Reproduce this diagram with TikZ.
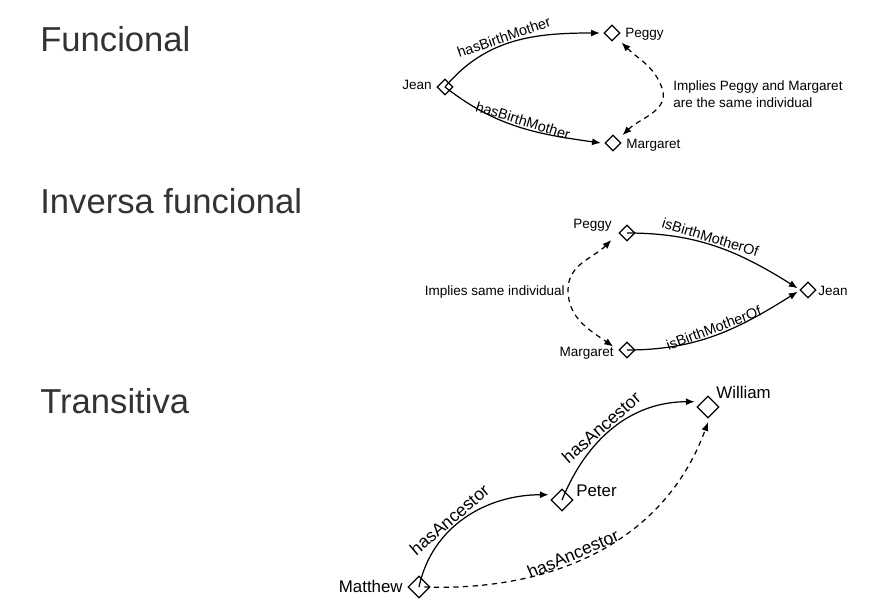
\documentclass[tikz,border=0pt]{standalone}
\usepackage{fontspec}
\setmainfont{Liberation Sans}
\usetikzlibrary{shapes.geometric,arrows.meta}
\definecolor{titlegray}{HTML}{333333}
\begin{document}
\begin{tikzpicture}[x=0.02cm,y=0.02cm,
  title/.style={anchor=base west,font=\fontsize{19.7}{22}\selectfont,text=titlegray,inner sep=0},
  lbl/.style={font=\fontsize{7.7}{9}\selectfont,inner sep=0},
  lblbig/.style={font=\fontsize{9.6}{11}\selectfont,inner sep=0},
  ind/.style={draw,diamond,inner sep=0,minimum size=0.32cm,line width=0.7pt},
  indbig/.style={ind,minimum size=0.44cm},
  rel/.style={line width=0.7pt,-{Latex[length=5pt,width=4pt]}},
  infer/.style={line width=0.7pt,dash pattern=on 3pt off 2.5pt,{Latex[length=5pt,width=4pt]}-{Latex[length=5pt,width=4pt]}},
  elab/.style={sloped,above,inner sep=0.8pt,font=\fontsize{8.2}{9}\selectfont},
  elabbig/.style={sloped,above,inner sep=0.8pt,font=\fontsize{10}{11}\selectfont}]
\useasboundingbox (0,0) rectangle (885,613);

% titles
\node[title] (t1) at (40,561) {Funcional};
\node[title] (t2) at (40,400) {Inversa funcional};
\node[title] (t3) at (40,200) {Transitiva};

% ---- Funcional
\node[ind] (j1) at (445,526) {};
\node[ind] (p1) at (612,580) {};
\node[ind] (m1) at (613,470) {};
\node[lbl,anchor=base east] (j1t) at (432,523) {Jean};
\node[lbl,anchor=base west] (p1t) at (625,575) {Peggy};
\node[lbl,anchor=base west] (m1t) at (626,465) {Margaret};
\node[lbl,anchor=base west] (imp1) at (673,522) {Implies Peggy and Margaret};
\node[lbl,anchor=base west] (imp1b) at (673,505) {are the same individual};
\draw[rel] (j1.center) to[out=50,in=180] node[elab,pos=0.45] {hasBirthMother} ([xshift=-2pt]p1.west);
\draw[rel] (j1.center) to[out=-38,in=172] node[elab,pos=0.52] {hasBirthMother} ([xshift=-2pt]m1.west);
\draw[infer] ([shift={(3pt,2pt)}]m1.45) to[out=45,in=-70] (662,525) to[out=110,in=-45] ([shift={(3pt,-3pt)}]p1.-45);

% ---- Inversa funcional
\node[ind] (p2) at (627,380) {};
\node[ind] (j2) at (808,323) {};
\node[ind] (m2) at (627,263) {};
\node[lbl,anchor=base east] (p2t) at (612,385) {Peggy};
\node[lbl,anchor=base west] (j2t) at (818,318) {Jean};
\node[lbl,anchor=base east] (m2t) at (614,257) {Margaret};
\node[lbl,anchor=base east] (imp2) at (565,318) {Implies same individual};
\draw[rel] (p2.center) to[out=0,in=148] node[elab,pos=0.45] {isBirthMotherOf} ([shift={(-1pt,1pt)}]j2.west);
\draw[rel] (m2.center) to[out=0,in=-148] node[elab,pos=0.5] {isBirthMotherOf} ([shift={(-1pt,-1pt)}]j2.west);
\draw[infer] ([shift={(-4pt,-4pt)}]p2.west) to[out=225,in=90] (568,323) to[out=-90,in=145] ([shift={(-3pt,2pt)}]m2.west);

% ---- Transitiva
\node[indbig] (w3) at (708,206) {};
\node[indbig] (pe3) at (562,113) {};
\node[indbig] (ma3) at (419,26) {};
\node[lblbig,anchor=base west] (w3t) at (716,215) {William};
\node[lblbig,anchor=base west] (pe3t) at (576,117) {Peter};
\node[lblbig,anchor=base east] (ma3t) at (403,21) {Matthew};
\draw[rel] (ma3.center) to[out=78,in=180] node[elabbig,pos=0.42] {hasAncestor} ([shift={(-1pt,3pt)}]pe3.west);
\draw[rel] (pe3.center) to[out=68,in=180] node[elabbig,pos=0.45] {hasAncestor} ([shift={(-1pt,3pt)}]w3.west);
\draw[rel,dash pattern=on 3pt off 2.5pt] ([xshift=3pt]ma3.center) to[out=-2,in=-110] node[elabbig,pos=0.43] {hasAncestor} ([yshift=-2pt]w3.south);
\end{tikzpicture}
\end{document}
